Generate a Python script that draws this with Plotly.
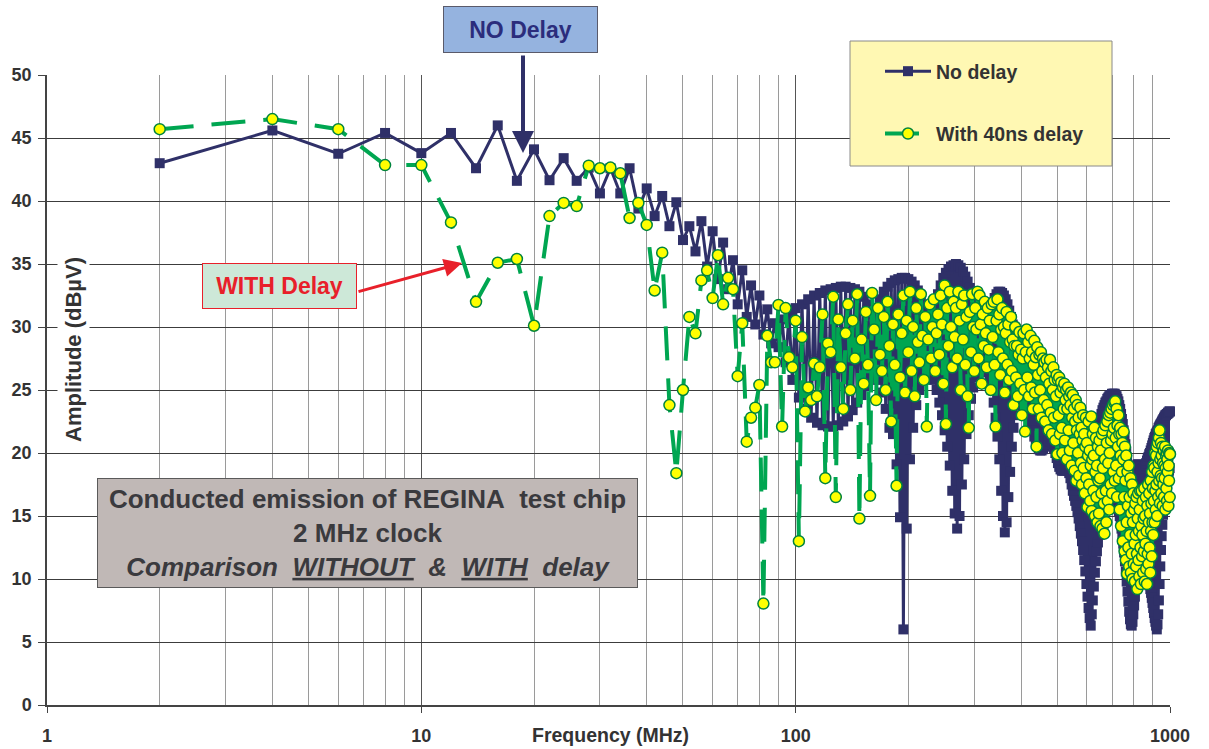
import plotly.graph_objects as go

# Harmonics of the 2 MHz clock
freq_mhz = list(range(2, 1001, 2))

# Conducted emission without delay (dBuV), one value per harmonic
no_delay = [
    43.0, 45.6, 43.75, 45.4, 43.8, 45.4, 42.6, 46.0, 41.6, 44.1,
    41.65, 43.4, 41.6, 42.65, 40.6, 42.6, 40.6, 42.6, 39.4, 41.0,
    38.8, 40.4, 38.0, 39.9, 36.9, 38.0, 36.0, 38.4, 34.8, 37.6,
    33.8, 36.7, 33.0, 35.3, 31.8, 34.5, 30.8, 33.3, 30.2, 32.5,
    29.4, 31.4, 28.7, 30.3, 28.4, 30.6, 27.2, 31.0, 25.8, 31.5,
    24.4, 31.8, 23.5, 32.2, 22.8, 32.5, 22.4, 32.7, 22.2, 32.9,
    22.1, 33.0, 22.1, 33.1, 22.2, 33.2, 22.5, 33.2, 22.9, 33.1,
    23.4, 33.0, 24.0, 32.8, 24.6, 32.4, 25.3, 31.8, 26.0, 31.0,
    26.5, 31.5, 25.8, 32.2, 24.8, 32.8, 23.5, 33.2, 22.0, 33.5,
    21.5, 33.7, 19.1, 33.8, 14.9, 33.9, 6.0, 33.9, 14.0, 33.8,
    19.5, 33.6, 22.0, 33.3, 23.8, 32.9, 25.0, 32.3, 26.0, 31.6,
    26.5, 31.0, 26.8, 30.6, 26.5, 31.0, 25.8, 31.8, 25.0, 32.6,
    24.0, 33.3, 23.0, 33.9, 21.8, 34.3, 20.5, 34.6, 19.0, 34.8,
    17.0, 34.9, 15.2, 35.0, 14.0, 34.9, 15.0, 34.7, 17.5, 34.4,
    19.5, 34.0, 21.5, 33.6, 23.0, 33.1, 24.3, 32.6, 25.2, 32.1,
    26.0, 31.6, 26.5, 31.1, 26.8, 30.7, 27.0, 30.4, 27.0, 30.3,
    26.8, 30.5, 26.4, 30.9, 25.8, 31.4, 25.0, 31.9, 24.0, 32.3,
    22.8, 32.6, 21.3, 32.8, 19.5, 32.8, 17.0, 32.7, 15.0, 32.5,
    13.7, 32.2, 14.5, 31.8, 16.5, 31.3, 18.5, 30.8, 20.5, 30.2,
    22.0, 29.7, 23.0, 29.3, 23.8, 28.9, 24.2, 28.6, 24.5, 28.3,
    24.5, 28.0, 24.3, 27.8, 24.0, 27.6, 23.6, 27.4, 23.2, 27.2,
    22.8, 27.1, 22.3, 27.0, 21.8, 26.9, 21.3, 26.8, 20.9, 26.7,
    20.6, 26.6, 20.3, 26.5, 20.2, 26.4, 20.2, 26.3, 20.3, 26.2,
    20.5, 26.1, 20.7, 26.0, 20.9, 25.9, 21.0, 25.8, 21.0, 25.7,
    20.9, 25.6, 20.7, 25.5, 20.4, 25.4, 20.0, 25.3, 19.6, 25.2,
    19.2, 25.1, 18.9, 25.0, 18.7, 24.9, 18.6, 24.8, 18.6, 24.7,
    18.6, 24.6, 18.7, 24.5, 18.7, 24.4, 18.6, 24.3, 18.4, 24.1,
    18.0, 23.9, 17.5, 23.7, 17.0, 23.5, 16.6, 23.2, 16.2, 22.9,
    15.8, 22.5, 15.3, 22.1, 14.8, 21.6, 14.2, 21.0, 13.6, 20.3,
    13.0, 19.5, 12.3, 18.6, 11.5, 17.6, 10.6, 16.5, 9.6, 15.3,
    8.6, 15.0, 7.7, 15.8, 6.9, 16.8, 6.3, 17.8, 7.2, 18.8,
    8.3, 19.6, 9.4, 20.3, 10.5, 20.9, 11.4, 21.4, 12.2, 21.8,
    12.9, 22.2, 13.5, 22.5, 14.1, 22.8, 14.6, 23.1, 15.0, 23.4,
    15.4, 23.6, 15.8, 23.8, 16.1, 24.0, 16.4, 24.1, 16.6, 24.3,
    16.8, 24.4, 17.0, 24.5, 17.1, 24.6, 17.1, 24.6, 17.1, 24.7,
    17.0, 24.7, 16.9, 24.7, 16.8, 24.7, 16.6, 24.6, 16.4, 24.5,
    16.1, 24.3, 15.8, 24.1, 15.4, 23.8, 15.0, 23.5, 14.5, 23.1,
    14.0, 22.7, 13.4, 22.3, 12.8, 21.8, 12.1, 21.3, 11.4, 20.7,
    10.6, 20.1, 9.8, 19.5, 9.0, 19.0, 8.2, 18.6, 7.4, 18.3,
    6.8, 18.1, 6.4, 18.0, 6.3, 18.0, 6.6, 18.1, 7.2, 18.3,
    7.9, 18.5, 8.6, 18.7, 9.2, 18.9, 9.7, 19.0, 10.1, 19.1,
    10.4, 19.1, 10.6, 19.0, 10.8, 18.9, 10.9, 18.8, 10.9, 18.7,
    10.9, 18.7, 10.8, 18.7, 10.6, 18.8, 10.4, 18.9, 10.1, 19.0,
    10.0, 19.2, 9.9, 19.4, 9.8, 19.6, 9.7, 19.7, 9.6, 19.9,
    9.5, 20.0, 9.2, 20.2, 8.9, 20.4, 8.5, 20.6, 8.1, 20.8,
    7.7, 21.0, 7.3, 21.2, 6.9, 21.3, 6.6, 21.5, 6.3, 21.6,
    6.0, 21.7, 6.4, 21.8, 7.2, 22.0, 8.3, 22.1, 9.6, 22.2,
    11.0, 22.3, 12.3, 22.4, 13.4, 22.5, 14.3, 22.6, 15.1, 22.7,
    15.7, 22.8, 16.2, 22.9, 16.7, 23.0, 17.1, 23.0, 17.5, 23.1,
    17.8, 23.1, 18.1, 23.2, 18.4, 23.2, 18.6, 23.3, 18.8, 23.3,
]

# Conducted emission with 40 ns delay (dBuV), one value per harmonic
with_delay = [
    45.7, 46.5, 45.7, 42.85, 42.85, 38.3, 32.0, 35.1, 35.4, 30.1,
    38.8, 39.85, 39.6, 42.8, 42.6, 42.65, 42.2, 38.65, 39.85, 38.1,
    32.9, 35.9, 23.8, 18.4, 25.0, 30.8, 29.5, 33.7, 34.5, 32.3,
    35.7, 31.8, 33.9, 33.0, 26.1, 30.3, 20.9, 22.8, 23.6, 25.4,
    8.05, 29.3, 27.2, 27.2, 31.75, 22.1, 31.5, 27.6, 26.8, 30.5,
    13.0, 29.2, 23.3, 25.2, 24.2, 27.1, 24.5, 26.8, 31.0, 18.0,
    28.7, 28.0, 32.4, 16.5, 30.6, 26.8, 23.5, 29.5, 31.8, 25.0,
    30.5, 27.5, 32.6, 14.8, 29.0, 25.5, 31.2, 27.0, 16.6, 32.7,
    29.8, 24.2, 31.5, 27.8, 26.5, 30.8, 25.0, 32.0, 28.5, 22.5,
    30.2, 27.0, 17.4, 31.0, 26.0, 29.5, 32.5, 24.8, 30.5, 28.0,
    32.8, 26.5, 30.0, 24.5, 31.5, 28.8, 27.2, 32.6, 29.3, 25.8,
    30.8, 22.1, 29.0, 31.8, 27.5, 30.0, 32.2, 26.5, 29.5, 31.0,
    27.8, 32.5, 30.2, 25.5, 33.3, 22.3, 31.5, 28.5, 32.8, 30.0,
    26.8, 32.0, 29.2, 31.5, 27.5, 32.8, 30.5, 25.0, 31.8, 29.0,
    32.5, 27.0, 30.8, 24.5, 22.0, 31.2, 28.0, 32.6, 30.0, 26.5,
    31.5, 29.8, 32.8, 27.5, 32.5, 30.2, 25.5, 31.0, 28.5, 32.0,
    29.5, 26.8, 31.5, 28.2, 30.5, 25.0, 31.8, 29.2, 32.0, 27.0,
    22.1, 30.5, 32.2, 28.0, 31.0, 26.2, 29.8, 31.5, 27.5, 30.0,
    24.8, 29.5, 31.2, 27.0, 30.2, 25.8, 28.8, 30.8, 26.5, 29.0,
    23.8, 28.5, 30.0, 26.0, 28.5, 24.5, 27.8, 29.6, 25.5, 28.2,
    23.0, 27.5, 29.5, 25.0, 21.7, 28.0, 29.8, 26.0, 28.8, 24.5,
    27.5, 29.3, 25.2, 28.0, 23.5, 27.0, 28.9, 24.8, 27.6, 20.5,
    28.4, 26.2, 23.5, 27.8, 25.0, 28.0, 22.8, 26.5, 27.5, 24.2,
    27.2, 22.5, 26.0, 27.4, 23.8, 26.8, 21.8, 25.5, 27.4, 23.2,
    26.5, 21.5, 25.0, 26.8, 22.8, 25.8, 21.0, 24.5, 26.2, 19.9,
    25.8, 23.0, 26.0, 21.5, 24.8, 25.6, 22.0, 20.0, 25.2, 23.5,
    25.5, 21.0, 24.2, 25.0, 19.5, 23.5, 25.2, 21.8, 24.5, 20.2,
    23.8, 24.8, 19.0, 22.8, 24.6, 20.8, 23.5, 18.6, 22.5, 24.2,
    17.8, 21.8, 23.8, 20.0, 22.8, 18.2, 21.5, 23.6, 19.2, 22.0,
    17.5, 21.0, 23.0, 18.8, 21.5, 16.8, 20.5, 22.8, 18.0, 20.8,
    15.7, 19.8, 22.5, 17.5, 20.2, 16.2, 19.0, 22.9, 15.4, 19.5,
    21.5, 17.0, 19.8, 22.0, 15.0, 18.5, 21.2, 16.5, 19.0, 14.5,
    20.5, 17.8, 15.2, 21.0, 18.0, 14.2, 20.2, 16.8, 21.5, 14.0,
    18.8, 21.8, 16.0, 13.6, 19.5, 22.2, 17.0, 14.5, 20.8, 22.5,
    16.2, 19.2, 23.0, 15.5, 20.0, 23.2, 17.5, 21.0, 23.5, 16.8,
    21.5, 23.8, 18.5, 22.0, 24.0, 17.8, 24.1, 21.2, 19.0, 23.5,
    16.5, 22.2, 20.5, 23.0, 18.0, 21.5, 15.5, 22.0, 19.8, 14.2,
    21.5, 18.5, 20.8, 13.0, 19.5, 21.7, 16.5, 12.2, 20.5, 17.8,
    11.5, 19.8, 14.5, 10.4, 18.5, 15.8, 12.5, 19.0, 11.0, 16.5,
    13.5, 18.0, 10.5, 15.2, 12.0, 17.5, 10.0, 14.5, 16.8, 11.2,
    15.5, 12.8, 9.8, 16.0, 13.5, 11.0, 16.5, 12.0, 9.2, 14.8,
    16.8, 11.5, 13.8, 10.2, 15.5, 17.0, 12.5, 9.6, 14.2, 17.0,
    11.8, 13.5, 16.2, 10.5, 14.8, 12.2, 17.2, 9.8, 15.0, 12.8,
    16.5, 10.8, 13.8, 9.6, 15.8, 12.0, 17.5, 11.2, 14.5, 16.8,
    12.5, 15.2, 10.5, 17.8, 13.8, 16.0, 11.8, 18.5, 14.5, 17.2,
    13.5, 19.0, 16.2, 18.8, 14.5, 20.0, 17.0, 15.5, 19.8, 17.5,
    20.5, 15.0, 18.5, 20.8, 16.5, 19.2, 21.2, 17.8, 21.8, 16.0,
    19.5, 18.2, 20.8, 16.8, 19.8, 18.0, 20.5, 15.8, 19.2, 17.5,
    20.2, 16.5, 19.0, 18.0, 20.5, 15.5, 18.8, 19.8, 17.2, 20.0,
    16.2, 19.5, 18.5, 20.2, 15.8, 19.0, 17.8, 20.0, 16.5, 19.9,
]

x_tick_vals = [1, 10, 100, 1000]
x_tick_text = ["1", "10", "100", "1000"]
x_minor_vals = [m * 10 ** k for k in range(3) for m in range(2, 10)]
y_tick_vals = list(range(0, 51, 5))

# Page and plot-area geometry (pixels)
W, H = 1209, 749
L, R, T, B = 47, 1170, 75, 705


def px(x):
    return (x - L) / (R - L)


def py(y):
    return (B - y) / (B - T)


FONT = "Liberation Sans, Arial, sans-serif"
TEXT = "#333333"
NAVY = "#2F3068"
GREEN = "#00A651"
RED = "#E8202A"

fig = go.Figure()
fig.add_trace(go.Scatter(
    x=freq_mhz, y=no_delay, name="No delay", mode="lines+markers",
    line=dict(color=NAVY, width=3),
    marker=dict(symbol="square", size=10, color=NAVY),
    legendgroup="nodelay", cliponaxis=False,
))
fig.add_trace(go.Scatter(
    x=freq_mhz, y=with_delay, name="With 40ns delay", mode="lines+markers",
    line=dict(color=GREEN, width=4, dash="34px,18px"),
    marker=dict(symbol="circle", size=11, color="#FFFF00",
                line=dict(color="#00843D", width=1.5)),
    legendgroup="delay", cliponaxis=False,
))

fig.update_layout(
    width=W, height=H,
    margin=dict(l=L, r=W - R, t=T, b=H - B, autoexpand=False),
    paper_bgcolor="white", plot_bgcolor="white",
    font=dict(family=FONT, color=TEXT),
    xaxis=dict(
        type="log", range=[0, 3],
        tickvals=x_tick_vals, ticktext=x_tick_text,
        ticks="outside", ticklen=6, tickcolor="#444444",
        tickfont=dict(size=18, weight="bold", color=TEXT),
        ticklabelstandoff=8,
        showgrid=True, gridcolor="#555555", gridwidth=1,
        minor=dict(tickvals=x_minor_vals, showgrid=True,
                   gridcolor="#9a9a9a", gridwidth=1, ticks=""),
        showline=True, linecolor="#444444", linewidth=1.5,
        zeroline=False,
    ),
    yaxis=dict(
        range=[0, 50], tickvals=y_tick_vals,
        ticks="outside", ticklen=7, tickcolor="#444444",
        tickfont=dict(size=18, weight="bold", color=TEXT),
        ticklabelstandoff=3,
        showgrid=True, gridcolor="#3c3c3c", gridwidth=1,
        showline=True, linecolor="#444444", linewidth=1.5,
        zeroline=False,
    ),
    showlegend=True,
    legend=dict(
        x=px(880), y=py(52), xanchor="left", yanchor="top",
        bgcolor="rgba(0,0,0,0)", borderwidth=0,
        font=dict(size=19.5, weight="bold", color=TEXT),
        tracegroupgap=34, itemwidth=46,
    ),
)

# Legend frame
fig.add_shape(
    type="rect", xref="paper", yref="paper",
    x0=px(850), x1=px(1112), y0=py(166), y1=py(41),
    fillcolor="#FFF8B3", line=dict(color="#8a8a8a", width=1), layer="above",
)

annotations = [
    # Axis titles
    dict(x=px(73), y=py(350), text="<b>Amplitude (dBµV)</b>", textangle=-90,
         bgcolor="white", borderpad=3, font=dict(size=22, color=TEXT)),
    dict(x=px(610), y=py(735), text="<b>Frequency (MHz)</b>",
         font=dict(size=19.5, color=TEXT)),
    # "NO Delay" callout
    dict(x=px(520.5), y=py(29.5), text="<b>NO Delay</b>", width=153, height=45,
         bgcolor="#95B3DF", bordercolor="#5a5a6a", borderwidth=1, borderpad=0,
         font=dict(size=23, color="#2B2D7C")),
    dict(x=px(523), y=py(153), text="", showarrow=True, ax=0, ay=-99,
         arrowhead=2, arrowsize=1.1, arrowwidth=4, arrowcolor=NAVY),
    # "WITH Delay" callout
    dict(x=px(279.5), y=py(286), text="<b>WITH Delay</b>", width=153, height=44,
         bgcolor="#CDE8D8", bordercolor=RED, borderwidth=1, borderpad=0,
         font=dict(size=23, color=RED)),
    dict(x=px(462), y=py(263), text="", showarrow=True, ax=-105, ay=29,
         arrowhead=2, arrowsize=1.2, arrowwidth=3, arrowcolor=RED),
    # Description box
    dict(x=px(367.5), y=py(533),
         text=("<b>Conducted emission of REGINA\u00a0 test chip<br>2 MHz clock<br>"
               "<i>Comparison\u00a0 <u>WITHOUT</u>\u00a0 &amp;\u00a0 <u>WITH</u>\u00a0 delay</i></b>"),
         width=539, height=108, bgcolor="#C0B8B6", bordercolor="#5a5a5a",
         borderwidth=1, borderpad=0, font=dict(size=26, color="#3A3A3E")),
]
for a in annotations:
    a.setdefault("xref", "paper")
    a.setdefault("yref", "paper")
    a.setdefault("showarrow", False)
    a.setdefault("xanchor", "center")
    a.setdefault("yanchor", "middle")
    fig.add_annotation(**a)

fig.write_html("out.html")
